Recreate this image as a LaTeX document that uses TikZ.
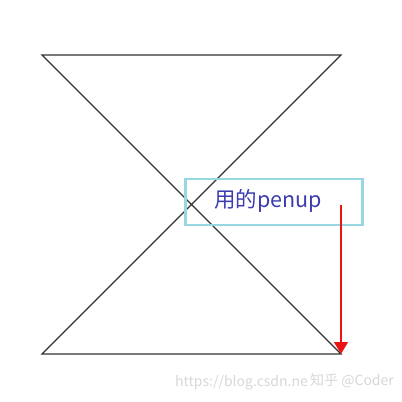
\documentclass[tikz,border=0pt]{standalone}
\usepackage{fontspec}
\setmainfont{Noto Sans CJK SC}
\usetikzlibrary{arrows.meta}
\definecolor{boxcyan}{RGB}{150,215,225}
\definecolor{txtblue}{RGB}{60,60,175}
\definecolor{arrred}{RGB}{235,20,20}
\definecolor{wmgray}{RGB}{215,215,215}
\begin{document}
\begin{tikzpicture}[x=1pt,y=-1pt,
  edge/.style={draw=black!80, line width=1.1pt},
  labelbox/.style={draw=boxcyan, line width=2.8pt, minimum width=177pt, minimum height=46pt, inner sep=0pt},
  wmark/.style={text=wmgray, font=\fontsize{14}{14}\selectfont}]
\useasboundingbox (0,0) rectangle (402,402);
\coordinate (tl) at (42,55);
\coordinate (tr) at (341,55);
\coordinate (bl) at (42,354);
\coordinate (br) at (341,354);
\draw[edge] (tl) -- (tr) -- (bl) -- (br) -- cycle;
\node[labelbox] (box) at (274,202) {};
\node[text=txtblue, font=\fontsize{21.5}{21.5}\selectfont, anchor=west, inner sep=0pt] (t) at (214,201) {用的penup};
\coordinate (as) at (341,205);
\draw[arrred, line width=1.3pt, -{Triangle[length=12pt,width=14pt]}] (as) -- (br);
\node[wmark, anchor=west, inner sep=0pt] (w1) at (175,383) {https://blog.csdn.ne};
\node[wmark, anchor=west, inner sep=0pt] (w2) at (310,381) {知乎 @Coder};
\end{tikzpicture}
\end{document}
